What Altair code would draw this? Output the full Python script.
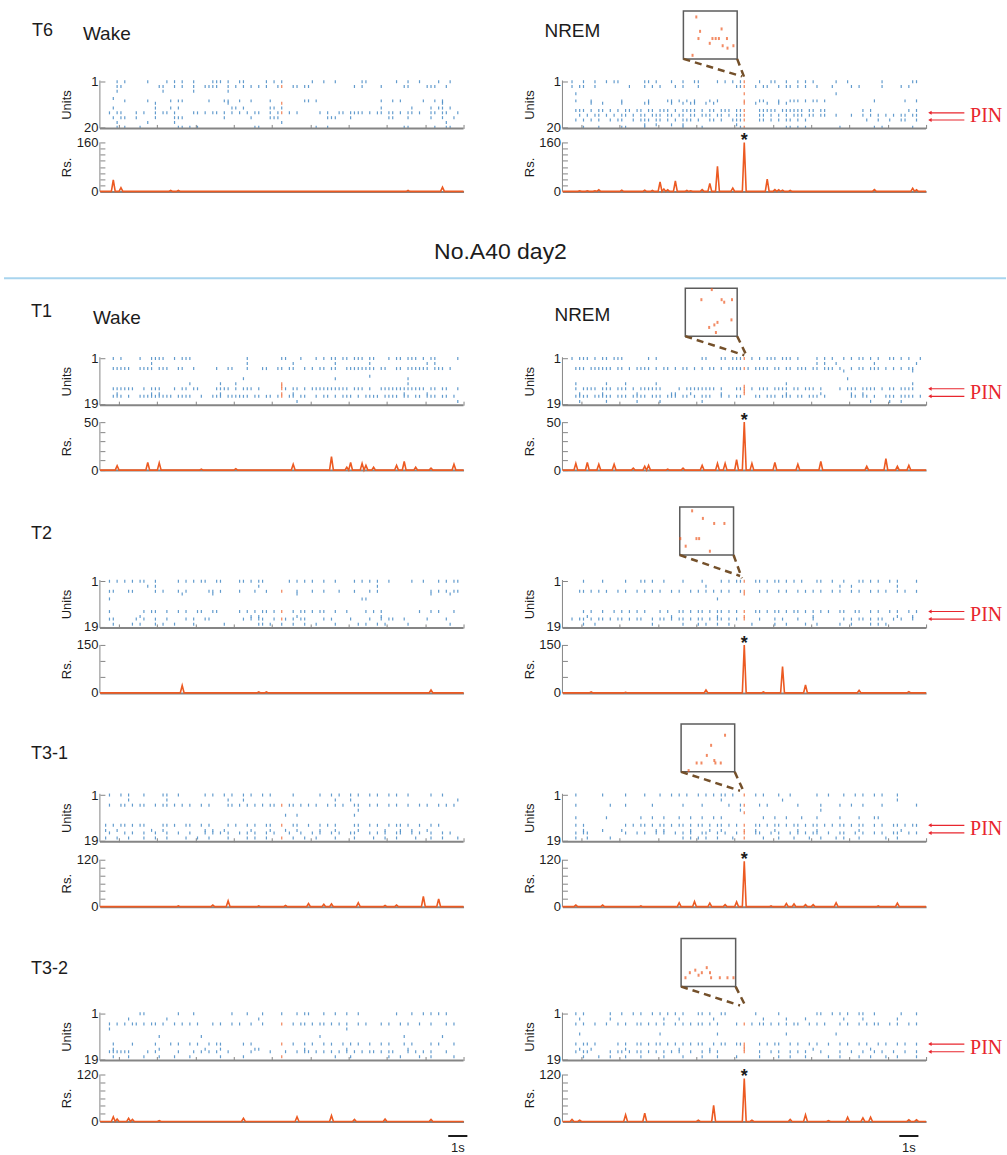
import altair as alt
import pandas as pd

# ---------------------------------------------------------------------------
# Time base: spikes are binned at 0.2 s over a 19 s window.
# Each raster maps unit (row) -> list of bins in which that unit fired.
# *_EVT lists the units taking part in the highlighted ensemble event
# (drawn in orange at EVT_BIN).
# ---------------------------------------------------------------------------
BIN = 0.2
NBINS = 95
T_END = NBINS * BIN
EVT_BIN = 47
EVT_T = (EVT_BIN + 0.5) * BIN

# ----------------------------- T6 ------------------------------------------
T6_WAKE = {
    1: [4, 6, 12, 17, 19, 21, 24, 29, 30, 31, 33, 36, 37, 43, 45, 47, 55, 58, 61, 68, 69, 77, 80, 83, 88, 91],
    3: [4, 5, 15, 16, 19, 21, 24, 27, 28, 29, 30, 33, 35, 37, 39, 41, 43, 46, 50, 51, 53, 54, 66, 68, 73, 79, 80, 85, 86, 87, 90],
    5: [4, 16, 24, 33],
    8: [3],
    9: [6, 12, 18, 20, 21, 28, 32, 33, 36, 39, 44, 53, 54, 56, 73, 76, 78, 84, 87, 89],
    10: [14, 33, 89],
    12: [3, 14, 18, 20, 34, 35, 37, 44, 45, 47, 73, 81, 86, 88, 89, 91],
    14: [2, 4, 5, 9, 11, 14, 16, 17, 19, 24, 25, 27, 29, 30, 32, 34, 36, 38, 40, 41, 44, 46, 49, 51, 57, 59, 62, 63,
         65, 66, 67, 68, 70, 72, 73, 75, 76, 78, 80, 81, 83, 86, 87, 89, 90, 93],
    16: [3, 5, 6, 9, 14, 19, 20, 21, 32, 39, 44, 45, 46, 59, 60, 61, 65, 75, 76, 80, 86, 89, 92],
    18: [4, 12, 19, 47, 90],
    20: [4, 6, 10, 20, 21, 23, 25, 40, 41, 56, 59, 79, 80, 87, 90, 91],
}
T6_WAKE_EVT = [3, 10, 14]

T6_NREM = {
    1: [2, 5, 8, 11, 13, 14, 21, 22, 24, 28, 31, 34, 35, 40, 42, 44, 46, 51, 54, 55, 58, 61, 63, 65, 71, 74, 83, 91, 92],
    3: [2, 4, 5, 8, 17, 21, 23, 25, 29, 31, 35, 45, 46, 50, 52, 53, 56, 58, 59, 61, 63, 66, 70, 75, 77, 83, 88, 90],
    6: [3, 71],
    9: [3, 7, 15, 22, 27, 28, 30, 32, 34, 38, 40, 51, 52, 56, 59, 60, 61, 63, 65, 66, 68, 81, 89, 92],
    10: [7, 10, 15, 21, 22, 28, 31, 33, 34, 37, 39, 50, 53, 56, 58],
    13: [3, 4, 5, 7, 9, 10, 12, 14, 16, 17, 19, 20, 22, 23, 25, 26, 27, 29, 31, 32, 33, 34, 36, 38, 39, 41, 42, 43,
         45, 46, 51, 52, 53, 54, 55, 57, 58, 59, 60, 61, 62, 64, 65, 67, 68, 78, 80, 90, 92],
    15: [4, 6, 8, 9, 11, 13, 15, 16, 18, 20, 21, 23, 24, 25, 27, 28, 30, 31, 33, 34, 36, 37, 38, 40, 41, 43, 45, 46,
         51, 52, 54, 56, 58, 60, 61, 62, 64, 65, 67, 68, 71, 75, 78, 80, 82, 84, 86, 88, 89, 91, 92],
    17: [3, 5, 7, 9, 12, 14, 15, 18, 20, 21, 22, 24, 25, 27, 29, 31, 32, 33, 35, 38, 39, 41, 44, 45, 46, 51, 52, 54,
         56, 58, 59, 61, 63, 79, 82, 85, 88, 89, 92],
    19: [21, 24, 28, 31, 45],
    20: [5, 9, 15, 16, 21, 31, 36, 46, 58, 59, 61, 63, 72, 81, 83, 91],
}
T6_NREM_EVT = [1, 3, 6, 9, 10, 13, 15, 17, 20]

# ----------------------------- T1 ------------------------------------------
T1_WAKE = {
    1: [3, 5, 10, 13, 14, 15, 16, 19, 21, 22, 23, 38, 47, 48, 52, 56, 58, 60, 61, 63, 64, 66, 67, 68, 70, 71, 75, 77,
        78, 80, 81, 82, 84, 86, 87, 93],
    3: [13, 38, 50, 61, 70, 85, 87],
    5: [3, 4, 5, 6, 7, 10, 11, 12, 13, 15, 16, 17, 20, 21, 24, 30, 33, 34, 38, 42, 43, 46, 47, 49, 50, 53, 55, 57, 58,
        60, 61, 64, 65, 66, 67, 68, 69, 70, 71, 73, 74, 77, 78, 80, 81, 82, 83, 84, 85, 87, 88, 89, 91],
    8: [70],
    9: [37, 61, 80],
    11: [23, 31, 35, 80],
    13: [3, 4, 5, 6, 7, 8, 11, 13, 14, 15, 19, 21, 22, 24, 25, 30, 31, 32, 33, 35, 37, 38, 39, 41, 48, 50, 51, 53, 55,
         56, 57, 58, 59, 60, 61, 62, 63, 64, 66, 67, 68, 70, 73, 74, 75, 76, 77, 78, 79, 80, 81, 82, 83, 84, 86, 87,
         89, 90, 93],
    15: [4, 13, 15, 31, 50, 79, 85],
    16: [3, 4, 5, 7, 10, 11, 12, 13, 14, 15, 16, 17, 18, 20, 21, 22, 23, 26, 29, 30, 31, 33, 34, 35, 36, 37, 38, 40,
         41, 43, 44, 46, 49, 50, 52, 53, 56, 58, 59, 61, 63, 64, 65, 67, 69, 70, 71, 72, 74, 75, 76, 77, 79, 80, 82,
         83, 85, 86, 87, 89, 90, 92],
    18: [51, 93],
}
T1_WAKE_EVT = [11, 12, 13, 15, 16]

T1_NREM = {
    1: [2, 4, 5, 6, 8, 10, 11, 13, 14, 15, 22, 24, 36, 37, 41, 42, 44, 45, 46, 49, 51, 53, 54, 55, 57, 58, 59, 61, 66,
        68, 70, 73, 75, 77, 78, 80, 82, 85, 86, 88, 90, 93],
    3: [66, 68, 71, 81, 92],
    5: [3, 4, 5, 7, 8, 9, 10, 11, 12, 14, 15, 17, 19, 20, 21, 22, 24, 26, 27, 29, 31, 32, 34, 36, 38, 39, 41, 43, 44,
        45, 46, 48, 50, 51, 52, 53, 55, 56, 58, 59, 61, 62, 63, 65, 66, 68, 69, 70, 72, 75, 77, 78, 80, 81, 82, 84,
        86, 88, 90, 91],
    6: [73, 91],
    9: [74],
    11: [3, 11, 16, 24, 58, 91],
    13: [3, 5, 6, 7, 8, 10, 11, 12, 14, 15, 16, 18, 20, 21, 22, 23, 24, 25, 30, 32, 33, 34, 35, 36, 37, 38, 39, 41,
         45, 46, 49, 51, 52, 53, 55, 56, 57, 58, 60, 61, 63, 64, 65, 67, 72, 74, 75, 76, 78, 79, 80, 81, 83, 85, 86,
         88, 89, 90, 91],
    15: [4, 10, 19, 28, 29, 33, 41, 58, 67, 75, 78],
    16: [3, 4, 5, 6, 8, 9, 10, 11, 12, 14, 15, 16, 18, 19, 20, 21, 23, 24, 25, 27, 28, 29, 31, 32, 34, 36, 37, 38,
         41, 43, 45, 46, 50, 51, 53, 54, 55, 57, 58, 59, 61, 62, 64, 65, 66, 68, 75, 76, 78, 79, 81, 84, 85, 86, 88,
         89, 90, 91, 93],
    18: [4, 11, 19, 25, 36, 80, 85, 88],
}
T1_NREM_EVT = [1, 5, 12, 13, 14, 15]

# ----------------------------- T2 ------------------------------------------
T2_WAKE = {
    1: [2, 4, 6, 8, 10, 11, 14, 20, 22, 24, 26, 27, 30, 31, 36, 37, 39, 41, 42, 49, 51, 53, 55, 58, 61, 66, 68, 70,
        72, 75, 81, 84, 88, 90, 92, 93],
    3: [12, 14, 41, 72],
    5: [2, 3, 7, 8, 14, 16, 20, 22, 28, 29, 31, 36, 40, 43, 51, 55, 58, 62, 66, 70, 72, 86, 88, 90, 92, 93],
    6: [21, 29, 51, 86, 91],
    8: [2, 68, 69],
    13: [2, 11, 13, 14, 17, 20, 22, 25, 26, 29, 30, 36, 38, 40, 42, 43, 45, 50, 52, 53, 55, 57, 58, 61, 64, 69, 71,
         73, 83, 86, 88, 92],
    15: [10, 39, 41, 51, 73],
    16: [2, 3, 9, 11, 14, 17, 22, 24, 27, 28, 37, 39, 41, 42, 45, 48, 50, 52, 53, 58, 60, 65, 70, 73, 75, 76, 79,
         85, 90],
    18: [3, 8, 10, 14, 16, 19, 24, 32, 41, 42, 44, 47, 50, 53, 56, 61, 67, 69, 72, 74, 80, 91],
}
T2_WAKE_EVT = [5, 13, 16]

T2_NREM = {
    1: [5, 10, 16, 20, 21, 23, 26, 31, 36, 41, 43, 45, 46, 50, 51, 53, 55, 56, 58, 60, 62, 66, 67, 70, 73, 77, 78,
        80, 82, 85, 87, 92],
    3: [37, 72, 75, 87],
    5: [4, 5, 7, 9, 11, 14, 16, 19, 21, 23, 25, 28, 30, 33, 35, 37, 39, 41, 43, 46, 51, 53, 56, 58, 61, 63, 65, 67,
        70, 72, 75, 77, 80, 82, 84, 87, 89, 92],
    8: [40],
    13: [5, 7, 10, 13, 15, 17, 19, 21, 25, 27, 30, 31, 33, 35, 36, 38, 40, 41, 43, 45, 50, 51, 53, 55, 56, 58, 60,
         61, 63, 65, 67, 69, 72, 73, 76, 77, 80, 82, 85, 87, 90, 92],
    15: [6, 28, 40, 65, 87, 91],
    16: [2, 4, 5, 7, 9, 10, 12, 14, 15, 17, 19, 20, 23, 25, 26, 28, 30, 31, 33, 35, 36, 38, 40, 41, 43, 45, 51, 55,
         57, 61, 65, 73, 75, 77, 78, 80, 82, 83, 86, 88, 91],
    18: [5, 8, 23, 31, 35, 37, 40, 43, 49, 55, 58, 63, 66, 72, 75, 80, 82, 84],
}
T2_NREM_EVT = [1, 5, 6, 13, 15, 16]

# ----------------------------- T3-1 ----------------------------------------
T31_WAKE = {
    1: [2, 5, 7, 11, 16, 17, 20, 27, 29, 32, 34, 37, 39, 42, 44, 50, 57, 60, 62, 65, 67, 70, 72, 75, 77, 80, 86, 89],
    3: [7, 17, 33, 37, 61, 65, 93],
    5: [2, 5, 6, 8, 10, 11, 14, 16, 17, 19, 21, 23, 26, 28, 33, 34, 36, 38, 40, 42, 44, 45, 49, 50, 52, 54, 56, 59,
        61, 63, 66, 67, 70, 72, 75, 77, 80, 83, 85, 88, 90, 92],
    7: [67],
    9: [48, 51, 66],
    13: [1, 3, 5, 6, 8, 10, 11, 16, 17, 19, 22, 23, 26, 28, 33, 35, 38, 40, 43, 44, 50, 51, 54, 57, 59, 61, 66, 67,
         70, 72, 75, 77, 78, 80, 83, 86, 88],
    15: [1, 4, 13, 16, 27, 29, 32, 39, 44, 48, 51, 57, 61, 67, 74, 78, 81, 85],
    16: [2, 6, 8, 11, 14, 17, 20, 23, 27, 29, 31, 33, 36, 38, 40, 43, 45, 49, 52, 55, 57, 60, 62, 65, 66, 70, 72, 74,
         77, 78, 81, 83, 86, 89, 91],
    18: [1, 4, 7, 11, 14, 17, 22, 25, 28, 33, 38, 40, 43, 50, 53, 56, 61, 66, 71, 74, 77, 82, 86, 89, 93],
}
T31_WAKE_EVT = [5, 13, 18]

T31_NREM = {
    1: [3, 10, 16, 21, 25, 28, 30, 32, 35, 37, 39, 41, 42, 44, 50, 52, 56, 59, 66, 69, 73, 76, 78, 81, 83, 87],
    3: [41, 57, 87],
    5: [3, 12, 16, 23, 31, 36, 43, 46, 51, 53, 61, 67, 72, 75, 78, 83, 92],
    7: [46, 67],
    10: [3, 11, 20, 23, 26, 30, 33, 36, 39, 41, 52, 55, 58, 62, 66, 72, 77, 81, 82],
    13: [3, 5, 16, 18, 20, 21, 23, 25, 26, 28, 30, 31, 33, 35, 36, 38, 40, 41, 43, 45, 50, 51, 53, 55, 56, 58, 60,
         61, 63, 65, 66, 68, 70, 72, 73, 75, 77, 78, 81, 83, 86, 87, 89, 91, 92],
    15: [5, 10, 15, 24, 26, 33, 38, 41, 50, 55, 61, 66, 77, 88],
    16: [3, 5, 6, 16, 19, 21, 24, 26, 29, 31, 33, 36, 37, 40, 42, 45, 50, 51, 54, 56, 59, 61, 63, 65, 66, 69, 72, 73,
         76, 78, 81, 83, 86, 87, 90, 92],
    18: [3, 6, 12, 31, 33, 35, 37, 40, 44, 52, 56, 60, 64, 67, 71, 73, 77, 84, 87],
}
T31_NREM_EVT = [1, 5, 8, 13, 15, 16, 18]

# ----------------------------- T3-2 ----------------------------------------
T32_WAKE = {
    1: [10, 11, 20, 24, 34, 38, 42, 47, 51, 53, 54, 58, 61, 64, 67, 77, 81, 84, 86, 88, 90],
    3: [7, 17, 41],
    5: [2, 4, 6, 8, 9, 11, 13, 14, 16, 19, 21, 23, 25, 29, 31, 34, 36, 39, 42, 50, 52, 53, 55, 57, 58, 60, 62, 64,
        67, 69, 73, 75, 78, 80, 83, 86, 90, 92],
    7: [2, 64],
    10: [15, 26, 57, 79, 89],
    13: [3, 8, 14, 18, 20, 23, 25, 28, 30, 31, 37, 39, 50, 53, 55, 58, 60, 63, 65, 67, 70, 73, 75, 79, 81, 86, 88,
         92],
    15: [3, 15, 27, 31, 40, 41, 53, 64, 80],
    16: [2, 3, 4, 5, 6, 7, 12, 14, 20, 24, 26, 28, 30, 33, 39, 44, 48, 51, 53, 54, 56, 58, 60, 62, 64, 66, 68, 70,
         71, 73, 75, 76, 80, 82, 84, 86, 90],
    18: [3, 7, 11, 15, 19, 23, 31, 37, 61, 65, 75, 78, 83, 86, 92],
}
T32_WAKE_EVT = [5, 13, 18]

T32_NREM = {
    1: [3, 5, 12, 15, 18, 20, 23, 25, 27, 29, 31, 35, 36, 38, 41, 42, 50, 56, 66, 67, 70, 72, 74, 77, 78, 81, 88, 92],
    3: [4, 12, 26, 30, 39, 52, 58, 63, 73, 78, 87],
    5: [3, 5, 8, 11, 14, 16, 19, 20, 22, 24, 26, 29, 31, 33, 35, 36, 38, 40, 45, 49, 51, 52, 54, 56, 58, 60, 61, 64,
        66, 68, 72, 74, 77, 79, 81, 82, 85, 87, 90, 92],
    9: [4, 25, 40, 58, 71],
    13: [3, 5, 6, 8, 14, 16, 19, 20, 22, 24, 25, 27, 29, 31, 33, 35, 36, 39, 41, 42, 45, 46, 51, 53, 55, 56, 59, 61,
         64, 66, 69, 72, 74, 77, 79, 82, 84, 87, 89, 92],
    15: [4, 7, 16, 30, 38, 65, 80],
    16: [3, 5, 6, 12, 14, 15, 17, 19, 20, 22, 24, 26, 28, 30, 33, 36, 38, 40, 51, 54, 56, 59, 61, 63, 67, 72, 75, 78,
         81, 83, 86, 89, 92],
    18: [5, 9, 12, 16, 20, 26, 31, 36, 40, 45, 51, 56, 59, 63, 69, 72, 77, 80, 84, 87, 92],
}
T32_NREM_EVT = [5, 13, 14, 15, 16]

# ---------------------------------------------------------------------------
# Population rate (Rs.) per 0.2 s bin: bin -> value; all other bins are 0.
# ---------------------------------------------------------------------------
T6_WAKE_RATE = {3: 38, 5: 12, 18: 3, 20: 3, 80: 3, 89: 14}
T6_NREM_RATE = {4: 2, 6: 2, 8: 2, 9: 5, 15: 4, 21: 4, 23: 3, 25: 31, 26: 8, 27: 5, 29: 34, 32: 3, 33: 2, 36: 6,
                38: 26, 40: 82, 44: 11, 47: 160, 53: 40, 55: 6, 56: 5, 57: 4, 59: 3, 81: 6, 91: 10, 92: 5}
T1_WAKE_RATE = {4: 4.5, 12: 8, 15: 7.5, 26: 1, 35: 1.5, 50: 6, 60: 14, 64: 3, 65: 8, 68: 7, 69: 5, 71: 3, 77: 5,
                79: 9, 82: 3, 86: 2, 92: 6}
T1_NREM_RATE = {3: 7, 6: 8, 9: 6, 13: 6, 18: 2, 21: 4, 22: 5, 27: 1, 31: 2, 36: 5, 40: 7, 42: 7, 45: 11, 47: 50,
                49: 7, 55: 8, 61: 6, 67: 9, 79: 4, 84: 12, 87: 4, 90: 5}
T2_WAKE_RATE = {21: 23, 41: 3, 43: 3, 86: 9}
T2_NREM_RATE = {7: 3, 16: 2, 37: 9, 47: 150, 52: 3, 57: 82, 63: 25, 77: 8, 90: 4}
T31_WAKE_RATE = {20: 2, 29: 4, 33: 15, 41: 2, 48: 3, 54: 8, 58: 6, 60: 7, 67: 10, 74: 3, 77: 4, 84: 26, 88: 20}
T31_NREM_RATE = {3: 4, 10: 4, 20: 2, 30: 10, 34: 13, 38: 9, 42: 5, 45: 12, 47: 116, 54: 2, 58: 8, 60: 7, 63: 5,
                 65: 5, 71: 10, 82: 2, 87: 9}
T32_WAKE_RATE = {3: 12, 4: 6, 7: 8, 8: 5, 15: 2, 37: 8, 51: 12, 60: 15, 66: 5, 74: 6, 86: 5}
T32_NREM_RATE = {2: 5, 4: 3, 16: 17, 21: 21, 35: 3, 39: 41, 47: 110, 49: 3, 59: 5, 63: 17, 69: 2, 74: 11, 78: 9,
                 80: 11, 90: 4, 92: 4}

# ---------------------------------------------------------------------------
# Zoomed event insets: position inside the zoom window (ms of 100) and unit.
# ---------------------------------------------------------------------------
INSET_T6_MS = [24, 31, 28, 49, 54, 60, 66, 71, 81, 73, 82, 93, 17]
INSET_T6_UNIT = [3, 9, 12, 14, 12, 12, 12, 8, 12, 15, 16, 15, 19]
INSET_T1_MS = [51, 31, 70, 75, 90, 89, 62, 56, 46, 59]
INSET_T1_UNIT = [1, 5, 5, 6, 5, 13, 14, 15, 16, 18]
INSET_T2_MS = [23, 43, 64, 83, 1, 31, 36, 11, 56]
INSET_T2_UNIT = [2, 5, 7, 7, 13, 13, 13, 16, 18]
INSET_T31_MS = [82, 56, 48, 29, 38, 62, 64, 74, 14]
INSET_T31_UNIT = [5, 9, 13, 16, 16, 15, 16, 16, 19]
INSET_T32_MS = [8, 16, 26, 32, 38, 47, 53, 55, 71, 85, 96]
INSET_T32_UNIT = [16, 14, 13, 15, 14, 12, 14, 16, 16, 16, 16]

# ----------------------------- styling -------------------------------------
BLUE = "#1f70b8"
ORANGE = "#ec5a22"
AX = "#858585"
INK = "#1c1c1c"
RED = "#e8262e"
BROWN = "#74502a"
SEP = "#a8d4ee"
SANS = "Liberation Sans"
SERIF = "Liberation Serif"
PANEL_W = 364
RASTER_H = 48
PIN_TIP, PIN_TAIL, PIN_TEXT = 19.05, 21.0, 21.3

ONE = pd.DataFrame({"k": [0]})


def x_scale():
    return alt.Scale(domain=[0, T_END], nice=False, zero=False)


def left_y_axis(values, top, title, height):
    return alt.Axis(
        values=values,
        labelExpr=f"datum.value == {values[0]} || datum.value == {top} ? datum.label : ''",
        domain=False, grid=False, ticks=True, tickSize=5, offset=-5,
        tickColor=AX, tickWidth=1, labelOverlap=False,
        labelFont=SANS, labelFontSize=13, labelColor=INK, labelPadding=2,
        title=title, titleFont=SANS, titleFontSize=13, titleFontWeight="normal",
        titleColor=INK, titleAngle=-90, titleBaseline="alphabetic",
        titleAlign="center", titleX=-34, titleY=height / 2,
    )


def raster(rows, evt_units, n, labels=(), inset=None, pin_units=None):
    spikes = pd.DataFrame([{"t": (b + 0.5) * BIN, "unit": u}
                           for u, bins in rows.items() for b in bins])
    events = pd.DataFrame({"t": [EVT_T] * len(evt_units), "unit": evt_units})
    xs = x_scale()
    ys = alt.Scale(domain=[n + 0.5, 0.5], nice=False, zero=False)
    xax = alt.Axis(values=list(range(1, 20, 2)), labels=False, domain=False, grid=False,
                   tickSize=4, offset=-4, tickColor=AX, tickWidth=1, title=None)
    yax = left_y_axis(list(range(1, n + 1)), n, "Units", RASTER_H)

    def X(f="t"):
        return alt.X(f"{f}:Q", scale=xs, axis=xax)

    def Y(f="unit"):
        return alt.Y(f"{f}:Q", scale=ys, axis=yax)

    layers = [
        alt.Chart(spikes).mark_tick(orient="vertical", size=3, thickness=1.2, color=BLUE).encode(x=X(), y=Y()),
        alt.Chart(events).mark_tick(orient="vertical", size=3, thickness=1.3, color=ORANGE).encode(x=X(), y=Y()),
        alt.Chart(ONE).mark_rule(color=AX, strokeWidth=1).encode(x=alt.datum(0)),
        alt.Chart(ONE).mark_rule(color=AX, strokeWidth=2).encode(y=alt.datum(n + 0.5)),
    ]
    for text, dx, dy, size in labels:
        layers.append(
            alt.Chart(ONE).mark_text(text=text, align="left", baseline="alphabetic", font=SANS,
                                     fontSize=size, color=INK)
            .encode(x=alt.value(dx), y=alt.value(dy)))

    if inset:
        t0, t1, shift, ms, units, end_l, end_r = inset
        top, bot = 0.5 + shift, n + 0.5 + shift
        box = pd.DataFrame({"t": [t0], "t2": [t1], "unit": [top], "unit2": [bot]})
        dots = pd.DataFrame({"t": [t0 + m / 100 * (t1 - t0) for m in ms],
                             "unit": [u + shift for u in units]})
        links = pd.DataFrame({"t": [t0, t1], "unit": [bot, bot],
                              "t2": [end_l[0], end_r[0]], "unit2": [end_l[1], end_r[1]]})
        layers += [
            alt.Chart(box).mark_rect(fillOpacity=0, stroke="#5c5c5c", strokeWidth=1.5)
            .encode(x=X(), x2="t2", y=Y(), y2="unit2"),
            alt.Chart(dots).mark_tick(orient="vertical", size=3, thickness=2, color=ORANGE)
            .encode(x=X(), y=Y()),
            alt.Chart(links).mark_rule(color=BROWN, strokeWidth=2.5, strokeDash=[7, 5])
            .encode(x=X(), y=Y(), x2="t2", y2="unit2"),
        ]

    if pin_units:
        arrows = pd.DataFrame({"t": [PIN_TAIL] * 2, "t2": [PIN_TIP + 0.15] * 2, "unit": pin_units})
        heads = pd.DataFrame({"t": [PIN_TIP + 0.15] * 2, "unit": pin_units})
        lab = pd.DataFrame({"t": [PIN_TEXT], "unit": [sum(pin_units) / 2]})
        layers += [
            alt.Chart(arrows).mark_rule(color=RED, strokeWidth=1.1).encode(x=X(), x2="t2", y=Y()),
            alt.Chart(heads).mark_point(shape="triangle-left", filled=True, size=16, color=RED, opacity=1)
            .encode(x=X(), y=Y()),
            alt.Chart(lab).mark_text(text="PIN", align="left", baseline="middle", font=SERIF,
                                     fontSize=20, color=RED).encode(x=X(), y=Y()),
        ]
    return alt.layer(*layers).properties(width=PANEL_W, height=RASTER_H)


def rate(peaks, top, step, height, star=None, scalebar=None, header=False):
    idx = range(2 * NBINS + 1)
    df = pd.DataFrame({"t": [i * BIN / 2 for i in idx],
                       "v": [peaks.get((i - 1) // 2, 0) if i % 2 else 0 for i in idx]})
    xs = x_scale()
    ys = alt.Scale(domain=[0, top], nice=False, zero=False)
    xax = alt.Axis(labels=False, ticks=False, domain=True, domainColor=AX, domainWidth=2,
                   grid=False, title=None)
    yax = left_y_axis(list(range(0, top + 1, step)), top, "Rs.", height)

    def X(f="t"):
        return alt.X(f"{f}:Q", scale=xs, axis=xax)

    def Y(f="v"):
        return alt.Y(f"{f}:Q", scale=ys, axis=yax)

    layers = [
        alt.Chart(ONE).mark_rule(color=AX, strokeWidth=1).encode(x=alt.datum(0)),
        alt.Chart(df).mark_line(color=ORANGE, strokeWidth=1.6).encode(x=X(), y=Y()),
    ]
    if star is not None:
        s = pd.DataFrame({"t": [EVT_T], "v": [star]})
        layers.append(alt.Chart(s).mark_text(text="*", fontSize=18, dy=4, baseline="alphabetic",
                                             font=SANS, fontWeight="bold", color=INK)
                      .encode(x=X(), y=Y()))
    if scalebar is not None:
        b0, b1 = scalebar
        bar = pd.DataFrame({"t": [b0], "t2": [b1], "v": [-top * 0.31]})
        lab = pd.DataFrame({"t": [(b0 + b1) / 2], "v": [-top * 0.56]})
        layers += [
            alt.Chart(bar).mark_rule(color=INK, strokeWidth=2).encode(x=X(), x2="t2", y=Y()),
            alt.Chart(lab).mark_text(text="1s", fontSize=13, font=SANS, color=INK, baseline="middle")
            .encode(x=X(), y=Y()),
        ]
    if header:
        layers += [
            alt.Chart(ONE).mark_text(text="No.A40 day2", fontSize=23, font=SANS, color=INK,
                                     align="center", baseline="alphabetic")
            .encode(x=alt.value(401), y=alt.value(117)),
            alt.Chart(ONE).mark_rule(color=SEP, strokeWidth=2)
            .encode(x=alt.value(-96), x2=alt.value(907), y=alt.value(136)),
        ]
    return alt.layer(*layers).properties(width=PANEL_W, height=height)


def spacer(h):
    return alt.Chart(ONE).mark_point(opacity=0, size=1).properties(width=PANEL_W, height=h)


# ----------------------------- panels --------------------------------------
# Row-major grid: (Wake, NREM) pairs; spacer rows set the vertical gaps.
grid = [
    raster(T6_WAKE, T6_WAKE_EVT, 20, labels=[("T6", -68, -45, 18), ("Wake", -17, -41, 19)]),
    raster(T6_NREM, T6_NREM_EVT, 20, labels=[("NREM", -18, -44, 19)],
           inset=(6.32, 9.13, -29.0, INSET_T6_MS, INSET_T6_UNIT, (9.38, -1.2), (9.5, -0.8)),
           pin_units=[14, 17]),
    spacer(14), spacer(14),
    rate(T6_WAKE_RATE, 160, 20, 49, header=True),
    rate(T6_NREM_RATE, 160, 20, 49, star=160),
    spacer(166), spacer(166),

    raster(T1_WAKE, T1_WAKE_EVT, 19, labels=[("T1", -69, -40, 18), ("Wake", -7, -33, 19)]),
    raster(T1_NREM, T1_NREM_EVT, 19, labels=[("NREM", -8, -36, 19)],
           inset=(6.42, 9.13, -27.3, INSET_T1_MS, INSET_T1_UNIT, (9.5, -0.3), (9.59, -0.6)),
           pin_units=[13, 16]),
    spacer(17), spacer(17),
    rate(T1_WAKE_RATE, 50, 10, 48),
    rate(T1_NREM_RATE, 50, 10, 48, star=50),
    spacer(110), spacer(110),

    raster(T2_WAKE, T2_WAKE_EVT, 19, labels=[("T2", -69, -41, 18)]),
    raster(T2_NREM, T2_NREM_EVT, 19,
           inset=(6.13, 8.94, -28.9, INSET_T2_MS, INSET_T2_UNIT, (9.28, -1.1), (9.38, -0.2)),
           pin_units=[13, 16]),
    spacer(17), spacer(17),
    rate(T2_WAKE_RATE, 150, 50, 48),
    rate(T2_NREM_RATE, 150, 50, 48, star=150),
    spacer(101), spacer(101),

    raster(T31_WAKE, T31_WAKE_EVT, 19, labels=[("T3-1", -69, -35, 18)]),
    raster(T31_NREM, T31_NREM_EVT, 19,
           inset=(6.2, 9.0, -27.7, INSET_T31_MS, INSET_T31_UNIT, (9.28, -0.7), (9.45, -0.7)),
           pin_units=[13, 16]),
    spacer(18), spacer(18),
    rate(T31_WAKE_RATE, 120, 20, 47),
    rate(T31_NREM_RATE, 120, 20, 47, star=116),
    spacer(106), spacer(106),

    raster(T32_WAKE, T32_WAKE_EVT, 19, labels=[("T3-2", -69, -39, 18)]),
    raster(T32_NREM, T32_NREM_EVT, 19,
           inset=(6.2, 9.05, -29.3, INSET_T32_MS, INSET_T32_UNIT, (9.28, -2.3), (9.55, -2.3)),
           pin_units=[13, 16]),
    spacer(14), spacer(14),
    rate(T32_WAKE_RATE, 120, 20, 47, scalebar=(18.2, 19.2)),
    rate(T32_NREM_RATE, 120, 20, 47, star=110, scalebar=(17.6, 18.6)),
]

chart = (
    alt.concat(*grid, columns=2, spacing={"row": 0, "column": 99}, bounds="flush")
    .properties(padding={"left": 3, "top": 9, "right": 0, "bottom": 0})
    .configure_view(strokeWidth=0)
)

chart.save("out.html", embed_options={"renderer": "svg", "actions": False})
